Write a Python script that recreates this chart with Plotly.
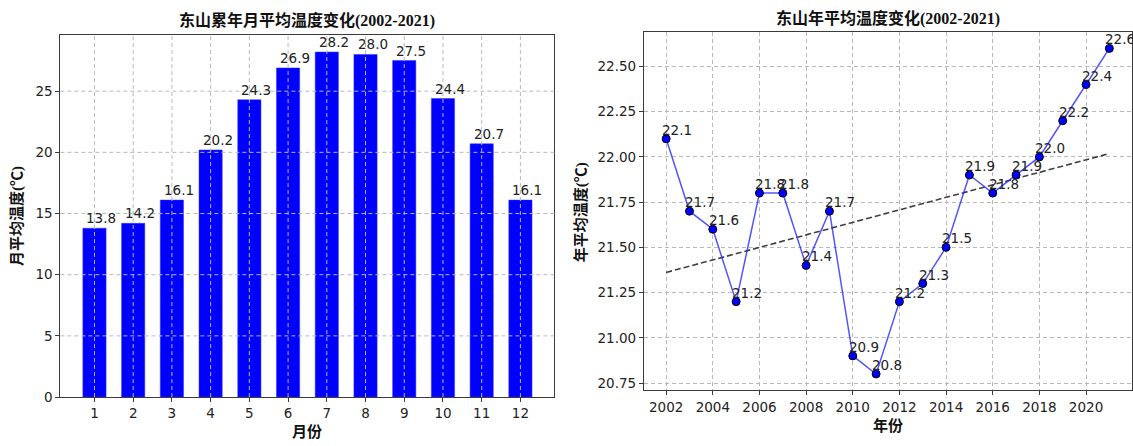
import numpy as np
import plotly.graph_objects as go

# ---------------- data ----------------
months = list(range(1, 13))
month_temps = [13.8, 14.2, 16.1, 20.2, 24.3, 26.9, 28.2, 28.0, 27.5, 24.4, 20.7, 16.1]
years = list(range(2002, 2022))
year_temps = [22.1, 21.7, 21.6, 21.2, 21.8, 21.8, 21.4, 21.7, 20.9, 20.8,
              21.2, 21.3, 21.5, 21.9, 21.8, 21.9, 22.0, 22.2, 22.4, 22.6]
left_yticks = [0, 5, 10, 15, 20, 25]
year_ticks = list(range(2002, 2021, 2))
right_yticks = [20.75, 21.00, 21.25, 21.50, 21.75, 22.00, 22.25, 22.50]

title_left = "东山累年月平均温度变化(2002-2021)"
title_right = "东山年平均温度变化(2002-2021)"
ylabel_left = "月平均温度(℃)"
ylabel_right = "年平均温度(℃)"
xlabel_left = "月份"
xlabel_right = "年份"

# ---------------- style ----------------
W, H = 1133, 446
TICK_FONT = dict(family="DejaVu Sans", size=13.5, color="#222222")
TITLE_FONT = dict(family="Liberation Serif, Noto Sans CJK SC", size=16, color="#111111", weight="bold")
LABEL_FONT = dict(family="Liberation Serif, Noto Sans CJK SC", size=15, color="#111111", weight="bold")
GRID_COLOR = "#b8b8b8"
FRAME_COLOR = "#3a3a3a"
BAR_W = 0.6

# trend line from least squares fit of the data
coef = np.polyfit(years, year_temps, 1)
trend = np.polyval(coef, years)

# auto ranges (matplotlib-like 5% margins)
lx0, lx1 = months[0] - BAR_W / 2, months[-1] + BAR_W / 2
lpad = 0.05 * (lx1 - lx0)
left_xrange = [lx0 - lpad, lx1 + lpad]
left_yrange = [0, max(month_temps) * 1.05]
rpad_x = 0.05 * (years[-1] - years[0])
right_xrange = [years[0] - rpad_x, years[-1] + rpad_x]
ymin, ymax = min(year_temps), max(year_temps)
rpad_y = 0.05 * (ymax - ymin)
right_yrange = [ymin - rpad_y, ymax + rpad_y]

fig = go.Figure()

fig.add_trace(go.Bar(x=months, y=month_temps, width=BAR_W,
                     marker=dict(color="#0000ff", line=dict(color="#3333ff", width=0.5)),
                     xaxis="x", yaxis="y", showlegend=False, hoverinfo="skip"))

fig.add_trace(go.Scatter(x=years, y=trend, mode="lines",
                         line=dict(color="#404040", width=1.6, dash="6px,3px"),
                         xaxis="x2", yaxis="y2", showlegend=False, hoverinfo="skip"))
fig.add_trace(go.Scatter(x=years, y=year_temps, mode="lines+markers",
                         line=dict(color="rgba(40,40,255,0.8)", width=1.5),
                         marker=dict(color="#0000ff", size=8, line=dict(color="#000000", width=1)),
                         xaxis="x2", yaxis="y2", showlegend=False, hoverinfo="skip"))

axis_common = dict(showline=True, mirror=True, linecolor=FRAME_COLOR, linewidth=1.2,
                   ticks="outside", ticklen=4, tickcolor=FRAME_COLOR, tickfont=TICK_FONT,
                   zeroline=False)

fig.update_layout(
    width=W, height=H,
    margin=dict(l=0, r=0, t=0, b=0),
    paper_bgcolor="white", plot_bgcolor="white",
    xaxis=dict(domain=[0.0533, 0.4894], range=left_xrange, tickvals=months,
               showgrid=False, **axis_common),
    yaxis=dict(domain=[0.0935, 0.9206], range=left_yrange, tickvals=left_yticks,
               showgrid=False, **axis_common),
    xaxis2=dict(domain=[0.5684, 0.9987], range=right_xrange, tickvals=year_ticks,
                anchor="y2", showgrid=True, gridcolor=GRID_COLOR, griddash="4px,3px",
                gridwidth=1, **axis_common),
    yaxis2=dict(domain=[0.109, 0.9267], range=right_yrange, tickvals=right_yticks,
                tickformat=".2f", anchor="x2", showgrid=True, gridcolor=GRID_COLOR,
                griddash="4px,3px", gridwidth=1, **axis_common),
)

# grid lines over the bars (left panel)
shapes = []
for m in months:
    shapes.append(dict(type="line", xref="x", yref="y domain", x0=m, x1=m, y0=0, y1=1,
                       line=dict(color=GRID_COLOR, width=1, dash="4px,3px"), layer="above"))
for v in left_yticks[1:]:
    shapes.append(dict(type="line", xref="x domain", yref="y", x0=0, x1=1, y0=v, y1=v,
                       line=dict(color=GRID_COLOR, width=1, dash="4px,3px"), layer="above"))
fig.update_layout(shapes=shapes)

ann = []
for m, t in zip(months, month_temps):
    ann.append(dict(x=m, y=t, xref="x", yref="y", text=f"{t:.1f}", showarrow=False,
                    xanchor="center", yanchor="bottom", xshift=7, yshift=0, font=TICK_FONT))
for yr, t in zip(years, year_temps):
    ann.append(dict(x=yr, y=t, xref="x2", yref="y2", text=f"{t:.1f}", showarrow=False,
                    xanchor="left", yanchor="bottom", xshift=-6, yshift=-1, font=TICK_FONT))

# titles and axis labels
ann.append(dict(x=(0.0533 + 0.4894) / 2, y=(H - 21) / H, xref="paper", yref="paper",
                text=title_left, showarrow=False, xanchor="center", yanchor="middle", font=TITLE_FONT))
ann.append(dict(x=(0.5684 + 0.9987) / 2, y=(H - 19) / H, xref="paper", yref="paper",
                text=title_right, showarrow=False, xanchor="center", yanchor="middle", font=TITLE_FONT))
ann.append(dict(x=17 / W, y=(H - 220) / H, xref="paper", yref="paper", text=ylabel_left,
                showarrow=False, textangle=-90, xanchor="center", yanchor="middle", font=LABEL_FONT))
ann.append(dict(x=581 / W, y=(H - 216) / H, xref="paper", yref="paper", text=ylabel_right,
                showarrow=False, textangle=-90, xanchor="center", yanchor="middle", font=LABEL_FONT))
ann.append(dict(x=(0.0533 + 0.4894) / 2, y=(H - 440) / H, xref="paper", yref="paper",
                text=xlabel_left, showarrow=False, xanchor="center", yanchor="middle", font=LABEL_FONT))
ann.append(dict(x=(0.5684 + 0.9987) / 2, y=(H - 433) / H, xref="paper", yref="paper",
                text=xlabel_right, showarrow=False, xanchor="center", yanchor="middle", font=LABEL_FONT))
fig.update_layout(annotations=ann)

fig.write_html("out.html", config={"displayModeBar": False},
               post_script="document.body.style.margin='0';")
